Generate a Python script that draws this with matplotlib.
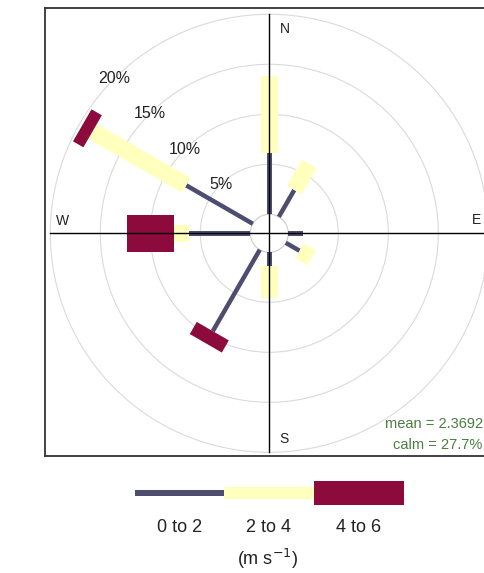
import numpy as np
import matplotlib
matplotlib.use("Agg")
import matplotlib.pyplot as plt
from matplotlib.patches import Polygon, Circle

plt.rcParams["font.family"] = ["Liberation Sans", "DejaVu Sans"]

# wind direction (deg from north) and frequency (%) per speed bin
directions = [0, 30, 60, 90, 120, 150, 180, 210, 240, 270, 300, 330]
ws_0_2 = [6.1, 3.1, 0, 1.5, 1.6, 0, 1.4, 9.4, 0, 6.1, 7.7, 0]
ws_2_4 = [7.7, 3.0, 0, 0, 1.4, 0, 3.2, 0, 0, 1.5, 10.8, 0]
ws_4_6 = [0, 0, 0, 0, 0, 0, 0, 1.4, 0, 4.7, 1.2, 0]
bin_labels = ["0 to 2", "2 to 4", "4 to 6"]
grid_pct = [5, 10, 15, 20]
mean_ws = 2.3692
calm_pct = 27.7

colors = ["#4d4d70", "#ffffbe", "#8c0a3c"]
widths = [0.45, 1.7, 3.7]      # paddle widths in % units
off = 1.9                      # calm offset

W, H = 484, 573
fig = plt.figure(figsize=(W / 100, H / 100), dpi=100)
fig.patch.set_facecolor("white")

# main panel, 10 px per % unit, centre at (269.3, 233.3) px
cx, cy = 269.3, 233.3
left, right, top, bottom = 45, 493, 8, 456
ax = fig.add_axes([left / W, 1 - bottom / H, (right - left) / W, (bottom - top) / H])
ax.set_xlim((left - cx) / 10, (right - cx) / 10)
ax.set_ylim(-(bottom - cy) / 10, (cy - top) / 10)
ax.set_aspect("equal")
ax.set_xticks([])
ax.set_yticks([])
for s in ax.spines.values():
    s.set_color("#333333")
    s.set_linewidth(1.3)

# grid circles
for g in grid_pct:
    ax.add_patch(Circle((0, 0), off + g, fill=False, ec="#dadada", lw=0.8, zorder=1))
ax.add_patch(Circle((0, 0), off, fill=False, ec="#cccccc", lw=0.8, zorder=1))

# paddles
bins = [ws_0_2, ws_2_4, ws_4_6]
for i, d in enumerate(directions):
    th = np.deg2rad(d)
    u = np.array([np.sin(th), np.cos(th)])
    p = np.array([np.cos(th), -np.sin(th)])
    start = off
    for b, vals in enumerate(bins):
        v = vals[i]
        if v <= 0:
            continue
        end = start + v
        hw = widths[b] / 2
        pts = [start * u + hw * p, end * u + hw * p, end * u - hw * p, start * u - hw * p]
        ax.add_patch(Polygon(pts, closed=True, fc=colors[b], ec="none", zorder=2))
        start = end

# crosshair
lim = off + 20
ax.plot([0, 0], [-lim, lim], color="black", lw=1.0, zorder=3)
ax.plot([-lim, lim], [0, 0], color="black", lw=1.0, zorder=3)

# percentage labels along 315 deg
for g in grid_pct:
    r = off + g
    a = np.deg2rad(315)
    ax.text(r * np.sin(a), r * np.cos(a), f"{g}%", ha="center", va="center",
            fontsize=11.5, color="#222222", zorder=4)

# compass labels
ax.text(1.05, 20.4, "N", ha="left", va="center", fontsize=10, color="#222222")
ax.text(1.05, -20.6, "S", ha="left", va="center", fontsize=10, color="#222222")
ax.text(-21.3, 1.2, "W", ha="left", va="center", fontsize=10, color="#222222")
ax.text(20.3, 1.3, "E", ha="left", va="center", fontsize=10, color="#222222")

# mean / calm text
fig.text(385 / W, 1 - 424 / H, f"mean = {mean_ws}", ha="left", va="center",
         fontsize=10.5, color="#4b7d3f")
fig.text(393 / W, 1 - 445 / H, f"calm = {calm_pct}%", ha="left", va="center",
         fontsize=10.5, color="#4b7d3f")

# legend
lg = fig.add_axes([0, 0, 1, 1], facecolor="none")
lg.set_xlim(0, W)
lg.set_ylim(H, 0)
lg.axis("off")
seg_left = [135, 224, 314]
seg_width = [89, 90, 90]
seg_height = [5.3, 12.7, 24]
lg.bar(seg_left, seg_height, width=seg_width, bottom=[493 - h / 2 for h in seg_height],
       align="edge", color=colors, edgecolor="none")
for x0, w, lab in zip(seg_left, seg_width, bin_labels):
    lg.text(x0 + w / 2, 527, lab, ha="center", va="center", fontsize=13, color="#222222")
lg.text(268, 559, r"(m s$^{-1}$)", ha="center", va="center", fontsize=13, color="#222222")

fig.savefig("out.png", dpi=100)
